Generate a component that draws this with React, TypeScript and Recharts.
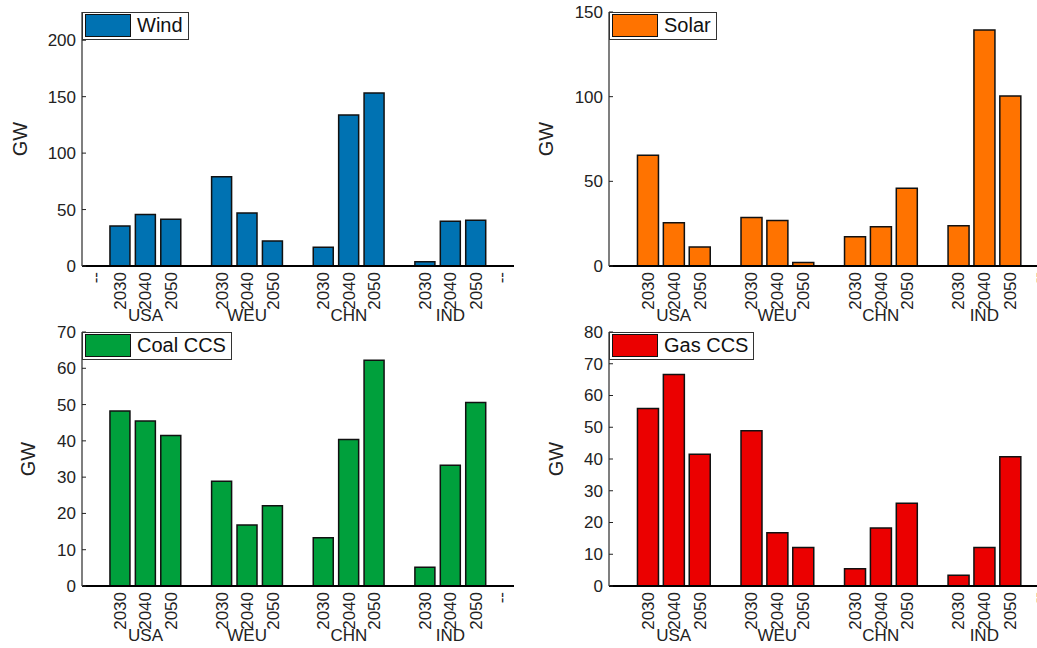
import React from "react";
import { BarChart, Bar, XAxis, YAxis, Legend } from "recharts";

const regions = ["USA", "WEU", "CHN", "IND"];
const years = ["2030", "2040", "2050"];

// values per region, 2030/2040/2050
const wind = [35.5, 45.6, 41.4, 79, 47, 22.2, 16.6, 133.7, 153.3, 3.8, 39.6, 40.5];
const solar = [65.4, 25.6, 11.2, 28.7, 26.8, 2, 17.3, 23.2, 45.9, 23.8, 139.4, 100.4];
const coalCcs = [48.2, 45.5, 41.5, 28.9, 16.8, 22.1, 13.3, 40.4, 62.2, 5.2, 33.3, 50.6];
const gasCcs = [55.9, 66.6, 41.5, 48.9, 16.8, 12.1, 5.4, 18.3, 26.1, 3.4, 12.1, 40.7];

const windTicks = [0, 50, 100, 150, 200];
const solarTicks = [0, 50, 100, 150];
const coalTicks = [0, 10, 20, 30, 40, 50, 60, 70];
const gasTicks = [0, 10, 20, 30, 40, 50, 60, 70, 80];

const FONT = '"Liberation Sans", Arial, sans-serif';

type Row = { key: string; year: string; region: string; value?: number };

function buildRows(values: number[]): Row[] {
  const rows: Row[] = [{ key: "pad-start", year: "--", region: "" }];
  regions.forEach((r, ri) => {
    years.forEach((y, yi) => {
      rows.push({ key: `${r}-${y}`, year: y, region: yi === 1 ? r : "", value: values[ri * 3 + yi] });
    });
    if (ri < regions.length - 1) rows.push({ key: `gap-${ri}`, year: "", region: "" });
  });
  rows.push({ key: "pad-end", year: "--", region: "" });
  return rows;
}

type PanelProps = {
  name: string;
  color: string;
  values: number[];
  max: number;
  ticks: number[];
  left: number;
  top: number;
  axisWidth: number;
  marginRight: number;
  labelX: number;
  firstDash: boolean;
};

const Panel = ({ name, color, values, max, ticks, left, top, axisWidth, marginRight, labelX, firstDash }: PanelProps) => {
  const rows = buildRows(values);
  const byKey: Record<string, Row> = {};
  rows.forEach((r) => (byKey[r.key] = r));

  const XTick = (props: any) => {
    const { x, y, payload } = props;
    const row = byKey[payload.value];
    if (!row) return null;
    const year = row.key === "pad-start" && !firstDash ? "" : row.year;
    return (
      <g>
        {year && (
          <text
            transform={`translate(${x},${y + 6}) rotate(-90)`}
            textAnchor="end"
            dy="0.35em"
            fontSize={17}
            fontFamily={FONT}
            fill="#222"
          >
            {year}
          </text>
        )}
        {row.region && (
          <text x={x} y={y + 55} textAnchor="middle" fontSize={17} fontFamily={FONT} fill="#222">
            {row.region}
          </text>
        )}
      </g>
    );
  };

  const YTick = (props: any) => {
    const { x, y, payload } = props;
    return (
      <g>
        <line x1={x + 6} x2={x + 10} y1={y} y2={y} stroke="#222" strokeWidth={1} />
        <text x={x} y={y} dy="0.35em" textAnchor="end" fontSize={17} fontFamily={FONT} fill="#222">
          {payload.value}
        </text>
      </g>
    );
  };

  return (
    <div style={{ position: "absolute", left, top }}>
      <BarChart
        width={530}
        height={328}
        data={rows}
        margin={{ top: 12, right: marginRight, bottom: 0, left: 0 }}
        barCategoryGap="10%"
      >
        <XAxis
          dataKey="key"
          height={62}
          interval={0}
          tickSize={0}
          tickMargin={0}
          tickLine={false}
          axisLine={{ stroke: "#000", strokeWidth: 2 }}
          tick={<XTick />}
        />
        <XAxis xAxisId="top" dataKey="key" orientation="top" height={0} tick={false} tickLine={false} axisLine={{ stroke: "#888", strokeWidth: 1 }} />
        <YAxis
          width={axisWidth}
          domain={[0, max]}
          ticks={ticks}
          allowDataOverflow
          tickSize={0}
          tickMargin={6}
          tickLine={false}
          axisLine={{ stroke: "#555", strokeWidth: 1.5 }}
          tick={<YTick />}
          label={{
            content: (p: any) => {
              const vb = p.viewBox || {};
              const cy = (vb.y || 0) + (vb.height || 0) / 2;
              return (
                <text
                  transform={`translate(${labelX},${cy}) rotate(-90)`}
                  textAnchor="middle"
                  dy="0.35em"
                  fontSize={20}
                  fontFamily={FONT}
                  fill="#222"
                >
                  GW
                </text>
              );
            },
          }}
        />
        <YAxis yAxisId="right" orientation="right" width={0} domain={[0, 1]} tick={false} tickLine={false} axisLine={{ stroke: "#777", strokeWidth: 1.5 }} />
        <Legend
          layout="vertical"
          verticalAlign="middle"
          align="center"
          wrapperStyle={{ left: axisWidth, top: 12, right: "auto", bottom: "auto", width: "auto", height: "auto" }}
          content={() => (
            <div
              style={{
                display: "flex",
                alignItems: "center",
                border: "1px solid #333",
                background: "#fff",
                padding: "1px 5px 2px 2px",
                fontFamily: FONT,
                fontSize: 20,
                lineHeight: "23px",
                color: "#111",
              }}
            >
              <span
                style={{
                  display: "inline-block",
                  boxSizing: "border-box",
                  width: 46,
                  height: 23,
                  background: color,
                  border: "1.5px solid #111",
                  marginRight: 6,
                }}
              />
              {name}
            </div>
          )}
        />
        <Bar dataKey="value" name={name} fill={color} stroke="#111" strokeWidth={1.5} isAnimationActive={false} />
      </BarChart>
    </div>
  );
};

export default function App() {
  return (
    <div style={{ position: "absolute", left: 0, top: 0, width: 1037, height: 648, overflow: "hidden", background: "#fff" }}>
      <Panel name="Wind" color="#0072B2" values={wind} max={225} ticks={windTicks} left={0} top={0} axisWidth={82} marginRight={16} labelX={20} firstDash />
      <Panel name="Solar" color="#FF7300" values={solar} max={150} ticks={solarTicks} left={520} top={0} axisWidth={89} marginRight={1} labelX={26} firstDash={false} />
      <Panel name="Coal CCS" color="#00A03C" values={coalCcs} max={70} ticks={coalTicks} left={0} top={320} axisWidth={82} marginRight={16} labelX={28} firstDash={false} />
      <Panel name="Gas CCS" color="#EB0000" values={gasCcs} max={80} ticks={gasTicks} left={520} top={320} axisWidth={89} marginRight={1} labelX={36} firstDash={false} />
    </div>
  );
}
